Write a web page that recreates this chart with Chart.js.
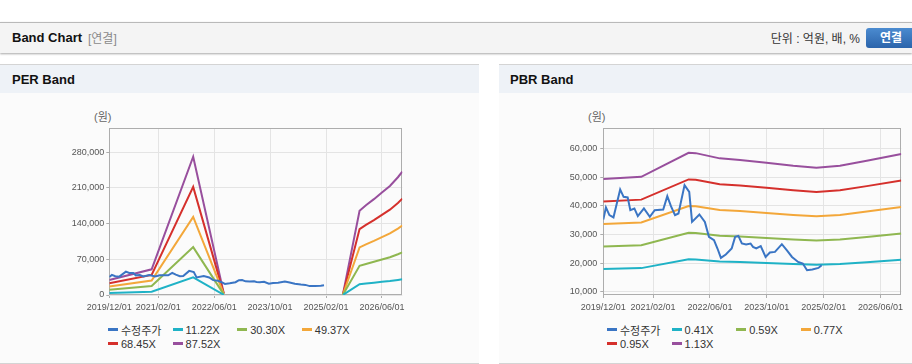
<!DOCTYPE html>
<html>
<head>
<meta charset="utf-8">
<script src="https://cdn.jsdelivr.net/npm/chart.js@4.4.1/dist/chart.umd.min.js"></script>
<style>
  body { margin: 0; width: 912px; height: 364px; background: #fff; overflow: hidden; position: relative;
         font-family: "Liberation Sans", Arial, "Noto Sans CJK KR", sans-serif; }
  .bar { position: absolute; left: 0; top: 22px; width: 912px; height: 30px; background: #f4f4f4;
         border-top: 1px solid #b9b9b9; box-shadow: 0 1px 2px rgba(0,0,0,0.35); }
  .ttl { position: absolute; font-weight: bold; font-size: 13px; color: #111; line-height: 16px; }
  .sub { position: absolute; font-size: 12px; color: #8a8a8a; line-height: 16px; }
  .unit { position: absolute; right: 52px; top: 31px; font-size: 12px; color: #333; line-height: 16px; }
  .btn { position: absolute; left: 866px; top: 28px; width: 52px; height: 20px; border-radius: 3px;
         background: linear-gradient(#4b8bd0, #2b64ab); color: #fff; font-weight: bold; font-size: 12px;
         line-height: 20px; text-align: center; box-sizing: border-box; padding-right: 2px; }
  .panel { position: absolute; top: 64px; height: 298px; background: #fbfbfb;
           border-top: 1px solid #d4d4d4; border-bottom: 1px solid #d4d4d4; }
  .phead { position: absolute; left: 0; top: 0; right: 0; height: 28px; background: #eef2f7; }
  .won { position: absolute; top: 110px; font-size: 11px; color: #666; line-height: 14px; }
  canvas { position: absolute; }
  .legend { position: absolute; top: 323px; display: grid; grid-template-columns: 64.6px 64.6px 64.6px 64.6px;
            grid-auto-rows: 13.7px; font-size: 11px; color: #333; }
  .legend div { display: flex; align-items: center; white-space: nowrap; }
  .legend i { display: inline-block; width: 10px; height: 3px; margin-right: 3px; }
</style>
</head>
<body>
<div class="bar"></div>
<div class="ttl" style="left:12px;top:30px">Band Chart</div>
<div class="sub" style="left:88px;top:31px">[연결]</div>
<div class="unit">단위 : 억원, 배, %</div>
<div class="btn">연결</div>

<div class="panel" style="left:0;width:479px"><div class="phead"></div></div>
<div class="panel" style="left:499px;width:413px"><div class="phead"></div></div>
<div class="ttl" style="left:12px;top:72px">PER Band</div>
<div class="ttl" style="left:510px;top:72px">PBR Band</div>
<div class="won" style="left:94px">(원)</div>
<div class="won" style="left:588px">(원)</div>

<canvas id="perChart" width="390" height="220" style="left:30px;top:100px"></canvas>
<canvas id="pbrChart" width="382" height="220" style="left:530px;top:100px"></canvas>
<div id="perLegend" class="legend" style="left:108px"></div>
<div id="pbrLegend" class="legend" style="left:607px"></div>

<script>
// x in months after 2019/12/01
const tickLabels = ['2019/12/01', '2021/02/01', '2022/06/01', '2023/10/01', '2025/02/01', '2026/06/01'];
const tickMonths = [1.75, 14, 28, 42, 56, 70];
const perTicks = [0, 70000, 140000, 210000, 280000];
const pbrTicks = [10000, 20000, 30000, 40000, 50000, 60000];
const colors = ['#3a75c4', '#1fb2c6', '#8fb750', '#f3a73a', '#d5302c', '#984f9d'];

const priceX = [1.75, 2.4, 3.25, 4.25, 5.9, 6.75, 7.75, 8.4, 9.4, 10.25, 11.75, 13.2, 14.4, 16.5, 17.5, 18.4,
  19.4, 20.25, 21.75, 22.9, 23.6, 25.4, 26.75, 27.75, 29, 29.85, 30.7, 31.9, 33.35, 34.2, 35, 35.85, 36.9,
  38, 38.6, 39.4, 40.5, 41.7, 42.75, 44, 45.7, 46.9, 48.2, 49.7, 50.85, 51.9, 53.2, 54.7, 55.5];
const priceY = [35270, 39480, 36770, 35970, 45790, 43200, 42990, 38530, 39120, 36420, 39120, 36180, 38530,
  38770, 43440, 39930, 36770, 37370, 47300, 44950, 34420, 37020, 34420, 29160, 28000, 25090, 21800, 23000,
  25090, 29160, 29510, 26840, 26490, 26840, 25650, 25090, 25900, 22140, 23680, 23900, 26600, 24500, 22140,
  20390, 19830, 17480, 17720, 18280, 19230];

const perNames = ['수정주가', '11.22X', '30.30X', '49.37X', '68.45X', '87.52X'];
const perX = [1.75, 12.35, 22.75, 30.4, 45, 60.25, 64.4, 66, 68, 70, 72, 74, 75.1];
const per1122 = [3770, 6460, 34770, 450, null, 200, 21190, 22560, 24100, 25770, 27430, 29610, 31000];
const per3030 = [10180, 17450, 93900, 1200, null, 600, 57240, 60900, 65100, 69600, 74100, 80000, 83700];
const per4937 = [16590, 28440, 153000, 2000, null, 1000, 93260, 99300, 106000, 113400, 120700, 130300, 136400];
const per6845 = [23000, 39420, 212100, 2700, null, 1400, 129300, 137700, 147000, 157200, 167400, 180600, 189100];
const per8752 = [29400, 50400, 271200, 3500, null, 1800, 165300, 176000, 188000, 201000, 214000, 231000, 241800];

const pbrNames = ['수정주가', '0.41X', '0.59X', '0.77X', '0.95X', '1.13X'];
const pbrX = [1.75, 11.1, 22.75, 24.5, 30.4, 35.4, 41.9, 48.5, 54.2, 60, 66.6, 75.1];
const pbr041 = [17930, 18220, 21280, 21230, 20560, 20340, 20000, 19620, 19360, 19620, 20260, 21110];
const pbr059 = [25800, 26220, 30620, 30540, 29590, 29280, 28790, 28230, 27870, 28230, 29150, 30380];
const pbr077 = [33670, 34210, 39960, 39860, 38620, 38210, 37570, 36840, 36370, 36840, 38040, 39650];
const pbr095 = [41540, 42210, 49300, 49180, 47640, 47140, 46350, 45460, 44870, 45460, 46940, 48910];
const pbr113 = [49410, 50210, 58640, 58500, 56670, 56070, 55130, 54070, 53370, 54070, 55830, 58180];

Chart.defaults.font.family = '"Liberation Sans", Arial, sans-serif';
Chart.defaults.font.size = 9;
Chart.defaults.color = '#555';

const frame = {
  id: 'frame',
  beforeDatasetsDraw(chart) {
    const a = chart.chartArea, c = chart.ctx;
    c.save();
    c.strokeStyle = '#adadad';
    c.lineWidth = 1;
    c.strokeRect(Math.round(a.left) + 0.5, Math.round(a.top) + 0.5,
      Math.round(a.right - a.left) - 1, Math.round(a.bottom - a.top) - 1);
    c.restore();
  }
};

function pts(xs, ys) { return xs.map((x, i) => ({ x: x, y: ys[i] })); }

function makeChart(id, names, xs, bands, yMin, yMax, yTicks, axisW, padRight, tickPad) {
  const sets = [{ label: names[0], data: pts(priceX, priceY) }]
    .concat(bands.map((b, i) => ({ label: names[i + 1], data: pts(xs, b) })))
    .map((d, i) => Object.assign(d, {
      borderColor: colors[i], backgroundColor: colors[i], borderWidth: 2,
      pointRadius: 0, tension: 0, spanGaps: false
    }));
  return new Chart(document.getElementById(id), {
    type: 'line',
    data: { datasets: sets },
    plugins: [frame],
    options: {
      responsive: false, animation: false,
      layout: { padding: { top: 28.3, right: padRight, left: 0, bottom: 0 } },
      plugins: { legend: { display: false }, tooltip: { enabled: false } },
      scales: {
        x: {
          type: 'linear', min: 1.75, max: 75.1,
          grid: { color: '#e4e4e4', tickLength: 3, tickColor: '#adadad' },
          border: { display: false },
          ticks: { padding: 4, maxRotation: 0, autoSkip: false, callback: (v, i) => tickLabels[i] },
          afterBuildTicks: a => { a.ticks = tickMonths.map(v => ({ value: v })); },
          afterFit: a => { a.height = 25; a.paddingLeft = 0; a.paddingRight = 0; }
        },
        y: {
          min: yMin, max: yMax,
          grid: { color: '#e4e4e4', tickLength: 3, tickColor: '#adadad' },
          border: { display: false },
          ticks: { padding: tickPad, autoSkip: false, callback: v => v.toLocaleString('en-US') },
          afterBuildTicks: a => { a.ticks = yTicks.map(v => ({ value: v })); },
          afterFit: a => { a.width = axisW; a.paddingTop = 0; a.paddingBottom = 0; }
        }
      }
    }
  });
}

function makeLegend(id, names) {
  document.getElementById(id).innerHTML = names.map((n, i) =>
    `<div><i style="background:${colors[i]}"></i>${n}</div>`).join('');
}

makeChart('perChart', perNames, perX, [per1122, per3030, per4937, per6845, per8752],
  0, 327000, perTicks, 79.3, 17.7, 2);
makeChart('pbrChart', pbrNames, pbrX, [pbr041, pbr059, pbr077, pbr095, pbr113],
  8800, 67200, pbrTicks, 73.3, 10.7, 3);
makeLegend('perLegend', perNames);
makeLegend('pbrLegend', pbrNames);
</script>
</body>
</html>
